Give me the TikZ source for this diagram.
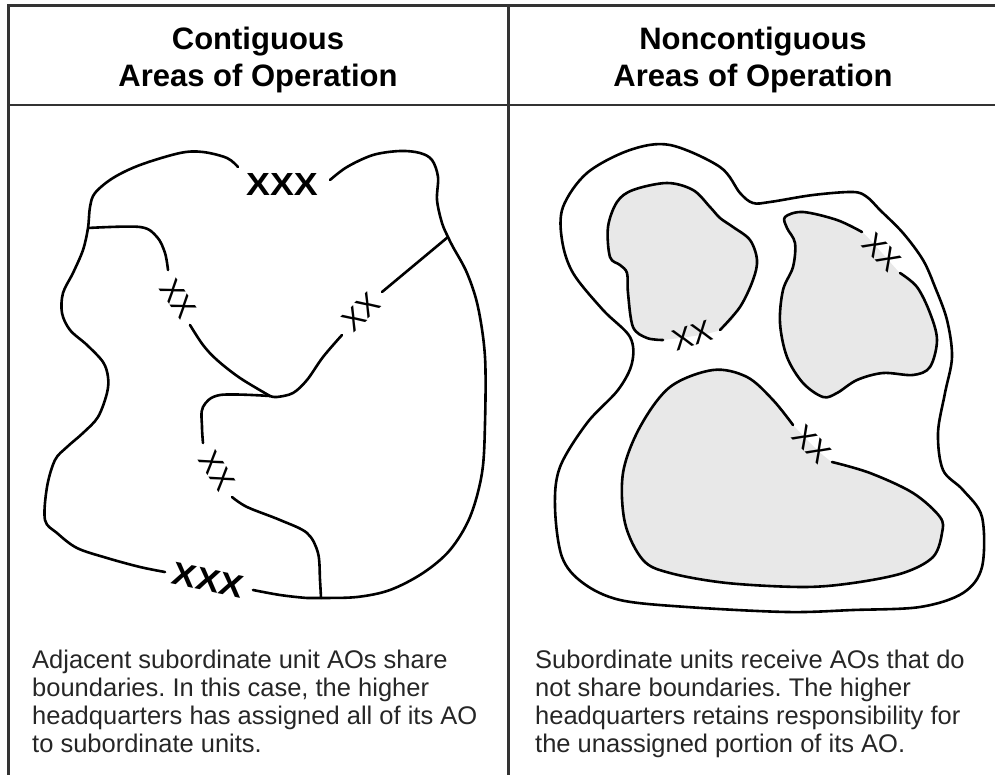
\documentclass[tikz,border=0pt]{standalone}
\usepackage{fontspec}
\setmainfont{Liberation Sans}
\frenchspacing
\begin{document}
\begin{tikzpicture}[x=1pt,y=-1pt,
  frame/.style={line width=2.6pt,draw=black!80},
  boundary/.style={line width=2.6pt,line join=round,line cap=round},
  area/.style={fill=black!9},
  corps/.style={font=\fontsize{32}{32}\selectfont\bfseries,inner sep=0pt},
  div/.style={font=\fontsize{30}{30}\selectfont,inner sep=0pt},
  title/.style={font=\fontsize{31}{37}\selectfont\bfseries,align=center,anchor=base,inner sep=0pt},
  note/.style={font=\fontsize{25.5}{28}\selectfont,align=left,anchor=base west,inner sep=0pt,text=black!85}]
\useasboundingbox (0,0) rectangle (995,775);

% table frame
\draw[frame] (995,5.5) -- (8.5,5.5) -- (8.5,775);
\draw[frame] (508.5,5.5) -- (508.5,775);
\draw[frame] (8.5,105) -- (995,105);

% headings (anchored on the baseline of their last line)
\node[title] (hl) at (258,87) {Contiguous\\Areas of Operation};
\node[title] (hr) at (753,87) {Noncontiguous\\Areas of Operation};

% ---------- contiguous AOs ----------
\draw[boundary] plot[smooth,tension=0.55] coordinates {(238,167) (227,158) (203,152) (180,153) (140,165) (113,178) (95,193) (90,207) (88,228) (83,250) (73,273) (63,293) (62,313) (70,330) (87,345) (103,362) (108,377) (107,393) (98,417) (83,433) (67,447) (55,460) (47,487) (45,520) (57,533) (77,548) (107,558) (140,567) (165,572)};
\draw[boundary] plot[smooth,tension=0.55] coordinates {(253,590) (280,595) (307,598) (321,598) (357,597) (390,590) (423,573) (450,550) (470,517) (482,473) (485,423) (485,357) (478,307) (467,273) (453,247) (448,237) (442,223) (437,200) (438,177) (432,160) (420,153) (400,151) (373,155) (347,167) (330,180)};

% internal boundaries
\draw[boundary] plot[smooth,tension=0.55] coordinates {(88,228) (140,227) (157,237) (165,253) (168,270)};
\draw[boundary] plot[smooth,tension=0.55] coordinates {(190,325) (203,345) (217,360) (240,378) (270,396)};
\draw[boundary] (448,237) -- (382,292);
\draw[boundary] plot[smooth,tension=0.55] coordinates {(342,335) (323,357) (307,380) (293,393) (277,397) (270,396)};
\draw[boundary] plot[smooth,tension=0.55] coordinates {(270,396) (220,395) (203,407) (202,427) (203,443)};
\draw[boundary] plot[smooth,tension=0.55] coordinates {(232,497) (247,507) (280,520) (307,533) (318,553) (320,580) (321,598)};

\node[corps] (c1) at (282,184) {\scalebox{1.12}[1]{XXX}};
\node[corps,rotate=-12] (c2) at (208,580) {\scalebox{1.12}[1]{XXX}};
\node[div,rotate=-55] (d1) at (178,299) {XX};
\node[div,rotate=42] (d2) at (361,312) {XX};
\node[div,rotate=-57] (d3) at (217,471) {XX};

% ---------- noncontiguous AOs ----------
\draw[boundary] plot[smooth cycle,tension=0.55] coordinates {(753,203) (740,193) (720,167) (670,145) (630,150) (587,173) (563,207) (562,240) (573,273) (603,310) (630,337) (632,363) (618,390) (587,423) (560,467) (555,507) (562,557) (583,583) (620,600) (687,607) (787,612) (853,610) (920,607) (963,593) (982,567) (982,517) (963,490) (943,470) (938,433) (945,393) (952,357) (947,320) (935,287) (923,260) (903,233) (880,210) (867,197) (853,192) (813,195) (770,202)};

% division AO, upper left
\fill[area] plot[smooth cycle,tension=0.55] coordinates {(720,330) (740,307) (753,280) (757,260) (750,240) (733,227) (720,218) (710,207) (693,190) (667,183) (633,190) (617,202) (608,227) (610,257) (620,265) (627,273) (628,293) (633,327) (647,338) (663,340)};
\draw[boundary] plot[smooth,tension=0.55] coordinates {(720,330) (740,307) (753,280) (757,260) (750,240) (733,227) (720,218) (710,207) (693,190) (667,183) (633,190) (617,202) (608,227) (610,257) (620,265) (627,273) (628,293) (633,327) (647,338) (663,340)};

% division AO, upper right
\fill[area] plot[smooth cycle,tension=0.55] coordinates {(862,232) (837,220) (803,212) (785,217) (787,228) (795,243) (793,267) (783,290) (780,323) (787,357) (803,383) (823,397) (837,393) (857,380) (883,373) (913,375) (930,367) (937,340) (930,313) (917,287) (900,273)};
\draw[boundary] plot[smooth,tension=0.55] coordinates {(862,232) (837,220) (803,212) (785,217) (787,228) (795,243) (793,267) (783,290) (780,323) (787,357) (803,383) (823,397) (837,393) (857,380) (883,373) (913,375) (930,367) (937,340) (930,313) (917,287) (900,273)};

% division AO, bottom
\fill[area] plot[smooth cycle,tension=0.55] coordinates {(832,462) (870,473) (913,493) (940,517) (942,533) (933,557) (903,573) (853,583) (803,587) (727,583) (670,573) (643,560) (625,523) (623,473) (640,427) (670,387) (713,370) (747,377) (773,400) (793,425)};
\draw[boundary] plot[smooth,tension=0.55] coordinates {(832,462) (870,473) (913,493) (940,517) (942,533) (933,557) (903,573) (853,583) (803,587) (727,583) (670,573) (643,560) (625,523) (623,473) (640,427) (670,387) (713,370) (747,377) (773,400) (793,425)};

\node[div,rotate=18] (e1) at (692,336) {XX};
\node[div,rotate=-45] (e2) at (882,252) {XX};
\node[div,rotate=-45] (e3) at (812,444) {XX};

% captions (anchored on the baseline of their last line)
\node[note] (nl) at (32,752) {Adjacent subordinate unit AOs share\\boundaries. In this case, the higher\\headquarters has assigned all of its AO\\to subordinate units.};
\node[note] (nr) at (535,752) {Subordinate units receive AOs that do\\not share boundaries. The higher\\headquarters retains responsibility for\\the unassigned portion of its AO.};
\end{tikzpicture}
\end{document}
